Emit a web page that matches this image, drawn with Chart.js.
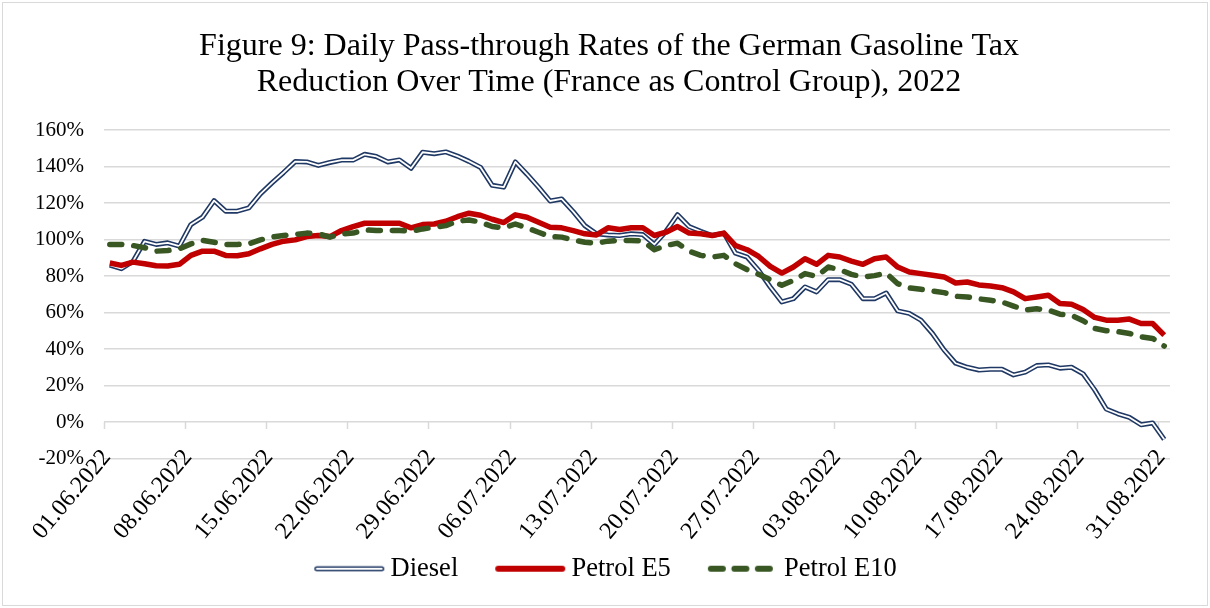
<!DOCTYPE html>
<html>
<head>
<meta charset="utf-8">
<script src="https://cdn.jsdelivr.net/npm/chart.js@4.4.1/dist/chart.umd.min.js"></script>
<style>
  html, body { margin: 0; padding: 0; background: #fff; }
  #wrap { position: relative; width: 1210px; height: 608px; }
  #frame { position: absolute; left: 2px; top: 2px; right: 2px; bottom: 2px; border: 1px solid #d9d9d9; pointer-events: none; }
</style>
</head>
<body>
<div id="wrap"><canvas id="chart" width="1210" height="608"></canvas><div id="frame"></div></div>
<script>
// daily categories 01.06.2022 .. 31.08.2022
const dates = [];
for (let i = 0; i < 92; i++) {
    const d = new Date(Date.UTC(2022, 5, 1 + i));
    const dd = String(d.getUTCDate()).padStart(2, '0');
    const mm = String(d.getUTCMonth() + 1).padStart(2, '0');
    dates.push(dd + '.' + mm + '.' + d.getUTCFullYear());
}

// pass-through rates in percent
const diesel = [
    86, 84, 88, 99, 97.3, 98.2, 96.4, 108.2, 112.2, 121.3,
    115.5, 115.5, 117.3, 125, 131, 136.7, 142.7, 142.5, 140.6, 142.2,
    143.5, 143.5, 146.7, 145.5, 142.5, 143.6, 139, 147.8, 147, 148,
    145.7, 142.8, 139.5, 129.7, 128.7, 142.5, 135.8, 128.7, 121.1, 122.2,
    115.3, 107.6, 103.1, 102.5, 102.2, 103.1, 102.7, 97.3, 104.5, 113.6,
    107.1, 104.5, 102.2, 103.5, 92.5, 90.4, 83.1, 74, 65.8, 67.6,
    74, 71.3, 78, 78, 75.5, 67.6, 67.6, 70.7, 60.9, 59.5,
    55.8, 48.5, 39.5, 32.2, 30, 28.5, 28.9, 28.9, 25.8, 27.3,
    30.9, 31.3, 29.5, 30, 26.4, 17.6, 7.1, 4.5, 2.5, -1.5,
    -0.5, -9.5
];
const petrolE5 = [
    87.1, 85.8, 87.6, 86.7, 85.6, 85.5, 86.4, 91.3, 93.6, 93.6,
    91.3, 91.1, 92.2, 94.9, 97.3, 99.1, 99.8, 101.6, 102.2, 101.6,
    104.9, 107.1, 108.9, 108.9, 108.9, 108.9, 106.4, 108.2, 108.5, 110,
    112.5, 114.4, 113.3, 111.1, 109.3, 113.5, 112.2, 109.5, 106.7, 106.4,
    104.9, 103.1, 102.5, 106.4, 105.5, 106.4, 106.4, 102.2, 104, 107.1,
    103.5, 103.1, 102.2, 103.5, 96.7, 94.4, 90.7, 85.3, 81.6, 84.9,
    89.5, 86.4, 91.3, 90.4, 88.2, 86.4, 89.5, 90.4, 84.9, 82.2,
    81.3, 80.4, 79.5, 76.2, 76.7, 75.1, 74.5, 73.6, 71.3, 67.6,
    68.5, 69.5, 64.9, 64.5, 61.6, 57.3, 55.8, 55.8, 56.4, 54,
    54, 47.6
];
const petrolE10 = [
    97.3, 97.3, 96.7, 95.5, 93.6, 94, 94.9, 97.6, 99.5, 98.5,
    97.3, 97.3, 97.6, 99.8, 101.3, 102.2, 102.7, 103.5, 103.1, 101.3,
    103.1, 103.5, 105.3, 104.9, 104.9, 104.9, 104.5, 105.8, 106.7, 107.6,
    110, 110.7, 109.5, 107.1, 106.4, 108.5, 106.4, 104, 101.6, 101.3,
    99.8, 98.5, 98, 99.1, 99.5, 99.5, 99.1, 94.4, 96.7, 98,
    93.6, 91.3, 90.4, 91.3, 86.7, 83.5, 80.9, 78, 74.9, 77.6,
    81.3, 79.8, 84.9, 83.5, 80.9, 79.5, 80.2, 81.6, 75.8, 73.5,
    72.7, 71.8, 70.9, 68.9, 68.5, 67.5, 66.7, 65.8, 63.5, 61.3,
    62, 61.3, 59.1, 58.5, 55.5, 51.3, 50, 49.5, 48.5, 46.7,
    45.8, 41.6
];
const yTicks = [-20, 0, 20, 40, 60, 80, 100, 120, 140, 160];

const NAVY = '#1f3864';
const RED = '#c00000';
const GREEN = '#385723';
const GRID = '#d9d9d9';
const SERIF = "'Liberation Serif', 'Times New Roman', serif";

// small canvases used as legend samples
function sample(draw) {
    const c = document.createElement('canvas');
    c.width = 72;
    c.height = 10;
    const g = c.getContext('2d');
    g.lineCap = 'round';
    draw(g);
    return c;
}
function seg(g, x0, x1) {
    g.beginPath();
    g.moveTo(x0, 5);
    g.lineTo(x1, 5);
    g.stroke();
}
const dieselIcon = sample(g => {
    g.strokeStyle = NAVY; g.lineWidth = 5; seg(g, 3.5, 68.5);
    g.strokeStyle = '#fff'; g.lineWidth = 2; seg(g, 3.5, 68.5);
});
const e5Icon = sample(g => {
    g.strokeStyle = RED; g.lineWidth = 6; seg(g, 4, 68);
});
const e10Icon = sample(g => {
    g.strokeStyle = GREEN; g.lineWidth = 6;
    seg(g, 4, 16); seg(g, 27.5, 39.5); seg(g, 51, 63);
});

// tick marks hang from the 0% line, as in the original
const axisTicks = {
    id: 'axisTicks',
    beforeDatasetsDraw(chart) {
        const xs = chart.scales.x, ys = chart.scales.y, ctx = chart.ctx;
        const half = (xs.getPixelForValue(1) - xs.getPixelForValue(0)) / 2;
        const y0 = ys.getPixelForValue(0);
        ctx.save();
        ctx.strokeStyle = GRID;
        ctx.lineWidth = 1.5;
        for (let i = 0; i < dates.length; i += 7) {
            const px = Math.round(xs.getPixelForValue(i) - half) + 0.5;
            ctx.beginPath();
            ctx.moveTo(px, y0);
            ctx.lineTo(px, y0 + 7);
            ctx.stroke();
        }
        ctx.restore();
    }
};

const lineBase = { pointRadius: 0, tension: 0, borderJoinStyle: 'round', fill: false };

new Chart(document.getElementById('chart'), {
    type: 'line',
    data: {
        labels: dates,
        datasets: [
            Object.assign({ label: 'Diesel', data: diesel, borderColor: NAVY, borderWidth: 5, order: 4 }, lineBase),
            Object.assign({ label: 'Diesel inner', data: diesel, borderColor: '#ffffff', borderWidth: 1.8, order: 3 }, lineBase),
            Object.assign({ label: 'Petrol E5', data: petrolE5, borderColor: RED, borderWidth: 5.5, order: 2 }, lineBase),
            Object.assign({ label: 'Petrol E10', data: petrolE10, borderColor: GREEN, borderWidth: 5.5,
                borderDash: [12, 12], borderCapStyle: 'round', order: 1 }, lineBase),
        ],
    },
    options: {
        responsive: false,
        animation: false,
        events: [],
        layout: { padding: { top: 29, left: 8, right: 0, bottom: 16 } },
        plugins: {
            title: {
                display: true,
                text: ['Figure 9: Daily Pass-through Rates of the German Gasoline Tax',
                       'Reduction Over Time (France as Control Group), 2022'],
                color: '#000',
                font: { family: SERIF, size: 32, weight: 'normal', lineHeight: 1.125 },
                padding: { top: 0, bottom: 29 },
            },
            legend: {
                position: 'bottom',
                labels: {
                    usePointStyle: true,
                    pointStyleWidth: 56,
                    padding: 44,
                    color: '#000',
                    font: { family: SERIF, size: 26.5 },
                    generateLabels: () => [
                        { text: 'Diesel', pointStyle: dieselIcon, lineWidth: 0, fillStyle: NAVY, strokeStyle: NAVY, datasetIndex: 0 },
                        { text: 'Petrol E5', pointStyle: e5Icon, lineWidth: 0, fillStyle: RED, strokeStyle: RED, datasetIndex: 2 },
                        { text: 'Petrol E10', pointStyle: e10Icon, lineWidth: 0, fillStyle: GREEN, strokeStyle: GREEN, datasetIndex: 3 },
                    ],
                },
            },
            tooltip: { enabled: false },
        },
        scales: {
            x: {
                offset: true,
                grid: { display: false },
                border: { display: false },
                afterFit: s => { s.height = 53; },
                ticks: {
                    autoSkip: false,
                    minRotation: 50,
                    maxRotation: 50,
                    mirror: true,        // no clipping, so labels may cross the -20% line
                    padding: -4,
                    labelOffset: 19,
                    color: '#000',
                    font: { family: SERIF, size: 24 },
                    callback: (v, i) => (i % 7 === 0 ? dates[i] : null),
                },
            },
            y: {
                min: -20,
                max: 160,
                afterFit: s => { s.width = 96; },
                afterBuildTicks: s => { s.ticks = yTicks.map(v => ({ value: v })); },
                grid: { color: GRID, lineWidth: 1.5, drawTicks: false },
                border: { display: false },
                ticks: {
                    padding: 20,
                    color: '#000',
                    font: { family: SERIF, size: 21 },
                    callback: v => v + '%',
                },
            },
            // empty axis on the right, only keeps the plot edge where the original has it
            yRight: {
                position: 'right',
                display: true,
                afterFit: s => { s.width = 40; },
                grid: { display: false },
                border: { display: false },
                ticks: { display: false },
            },
        },
    },
    plugins: [axisTicks],
});
</script>
</body>
</html>
